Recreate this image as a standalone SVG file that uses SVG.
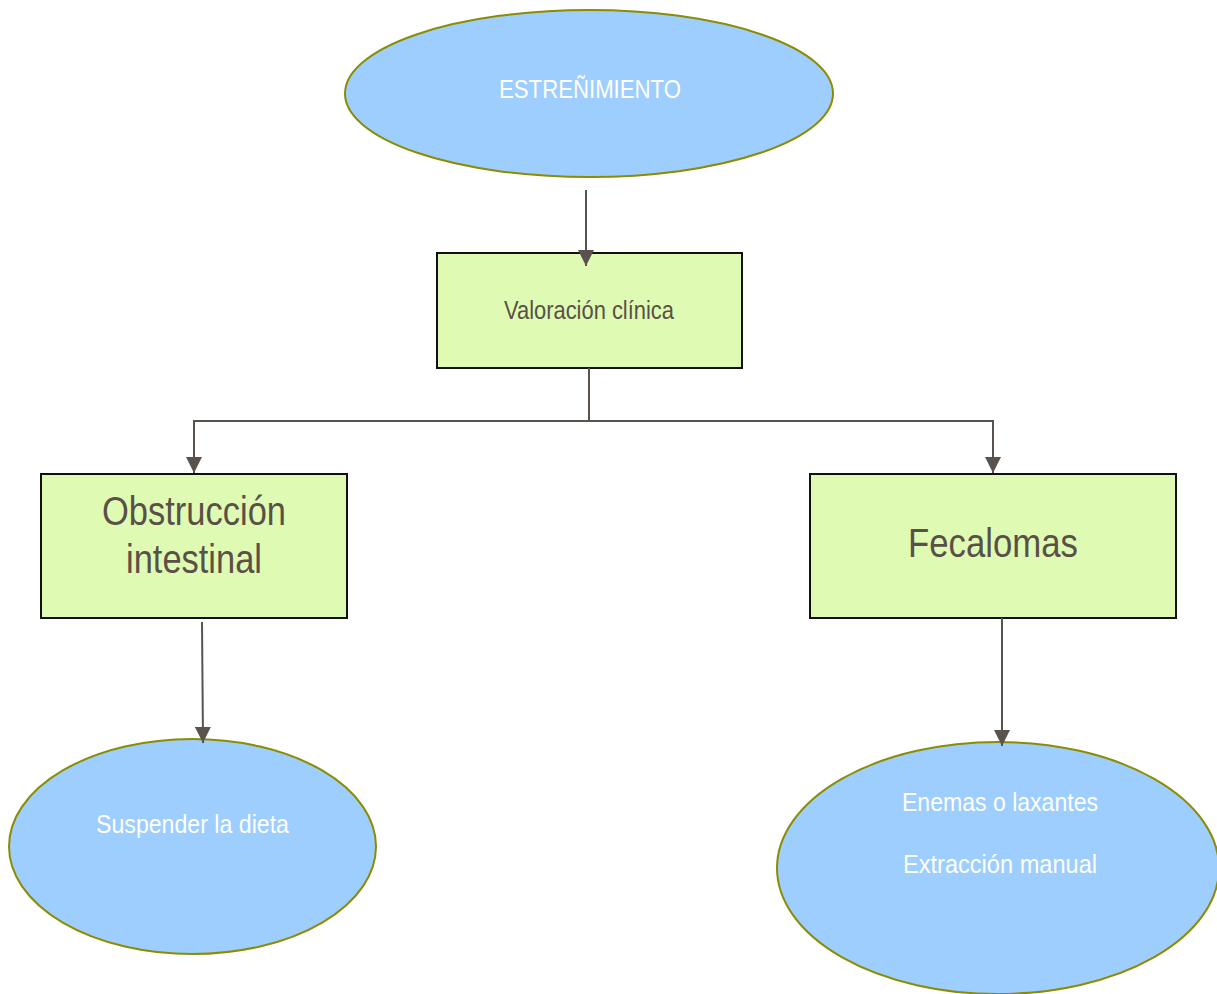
<svg xmlns="http://www.w3.org/2000/svg" width="1217" height="994" viewBox="0 0 1217 994">
<style>
.ell{fill:#9dcefd;stroke:#8c8c00;stroke-width:2}
.box{fill:#dffbb3;stroke:#111;stroke-width:2}
.wt{fill:#ffffff;font-family:"Liberation Sans Narrow","Arial Narrow","Liberation Sans",Arial,sans-serif;text-anchor:middle}
.dt{fill:#5a5048;font-family:"Liberation Sans Narrow","Arial Narrow","Liberation Sans",Arial,sans-serif;text-anchor:middle}
.con{fill:none;stroke:#5a534d;stroke-width:2}
</style>
<defs>
<marker id="arr" markerUnits="userSpaceOnUse" markerWidth="16" markerHeight="16" viewBox="0 0 16 16" refX="16" refY="8" orient="auto">
<path d="M0,0 L16,8 L0,16 Z" fill="#5a534d"/>
</marker>
</defs>
<g id="estrenimiento">
<ellipse class="ell" cx="589" cy="93.5" rx="244" ry="83.5"/>
<text class="wt" x="590" y="98" font-size="26" textLength="182" lengthAdjust="spacingAndGlyphs">ESTREÑIMIENTO</text>
</g>
<g id="valoracion">
<rect class="box" x="437" y="253" width="305" height="115"/>
<text class="dt" x="589" y="319" font-size="25" textLength="170" lengthAdjust="spacingAndGlyphs">Valoración clínica</text>
</g>
<g id="obstruccion">
<rect class="box" x="41" y="474" width="306" height="144"/>
<text class="dt" x="194" y="525" font-size="41" textLength="184" lengthAdjust="spacingAndGlyphs">Obstrucción</text>
<text class="dt" x="194" y="573" font-size="41" textLength="136" lengthAdjust="spacingAndGlyphs">intestinal</text>
</g>
<g id="fecalomas">
<rect class="box" x="810" y="474" width="366" height="144"/>
<text class="dt" x="993" y="557" font-size="41" textLength="170" lengthAdjust="spacingAndGlyphs">Fecalomas</text>
</g>
<g id="suspender">
<ellipse class="ell" cx="192.5" cy="846.5" rx="183.5" ry="107.5"/>
<text class="wt" x="192.5" y="833" font-size="26" textLength="193" lengthAdjust="spacingAndGlyphs">Suspender la dieta</text>
</g>
<g id="enemas">
<ellipse class="ell" cx="998" cy="868" rx="221" ry="126"/>
<text class="wt" x="1000" y="811" font-size="26" textLength="196" lengthAdjust="spacingAndGlyphs">Enemas o laxantes</text>
<text class="wt" x="1000" y="873" font-size="26" textLength="194" lengthAdjust="spacingAndGlyphs">Extracción manual</text>
</g>
<g id="connectors">
<line class="con" x1="586" y1="190" x2="586" y2="266" marker-end="url(#arr)"/>
<polyline class="con" points="589,368 589,421"/>
<polyline class="con" points="589,421 194,421 194,473" marker-end="url(#arr)"/>
<polyline class="con" points="589,421 993,421 993,473" marker-end="url(#arr)"/>
<line class="con" x1="202" y1="622" x2="203" y2="743" marker-end="url(#arr)"/>
<line class="con" x1="1002" y1="618" x2="1002" y2="746" marker-end="url(#arr)"/>
</g>
</svg>
